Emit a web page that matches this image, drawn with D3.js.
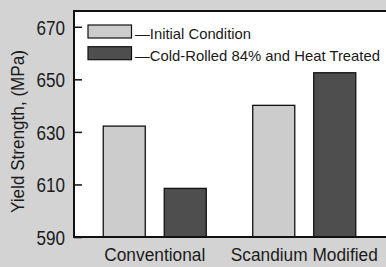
<!DOCTYPE html>
<html><head><meta charset="utf-8">
<script src="https://cdn.jsdelivr.net/npm/d3@7"></script>
<style>
html,body{margin:0;padding:0;background:#d3d3d3;}
svg{display:block;font-family:"Liberation Sans",Arial,Helvetica,sans-serif;}
</style></head>
<body>
<svg id="chart" width="386" height="267"></svg>
<script>
const categories = ["Conventional", "Scandium Modified"];
const seriesNames = ["Initial Condition", "Cold-Rolled 84% and Heat Treated"];
const initialValues = [632.2, 640.1];
const coldRolledValues = [608.5, 652.5];
const yTicks = [590, 610, 630, 650, 670];
const yTitle = "Yield Strength, (MPa)";

const W = 386, H = 267;
const svg = d3.select("#chart");
const plot = {left: 74, top: 11, bottom: 237, right: 400};
const colors = ["#cccccc", "#4e4e4e"];
const font = "Liberation Sans, Arial, sans-serif";

svg.append("rect").attr("x", 0).attr("y", 0).attr("width", W).attr("height", H).attr("fill", "#d3d3d3");
svg.append("rect").attr("x", plot.left).attr("y", plot.top)
  .attr("width", plot.right - plot.left).attr("height", plot.bottom - plot.top)
  .attr("fill", "#ffffff");

const y = d3.scaleLinear().domain([590, 676]).range([plot.bottom, plot.top]);
const x0 = d3.scaleBand().domain(categories).range([80, 379]).paddingInner(0).paddingOuter(0);
const x1 = d3.scaleBand().domain(seriesNames).range([0, x0.bandwidth()]).paddingInner(0.311).paddingOuter(0.381);

const data = categories.map((c, i) => ({cat: c, vals: [initialValues[i], coldRolledValues[i]]}));

const g = svg.append("g");
data.forEach(d => {
  d.vals.forEach((v, j) => {
    g.append("rect")
      .attr("x", x0(d.cat) + x1(seriesNames[j]))
      .attr("y", y(v))
      .attr("width", x1.bandwidth())
      .attr("height", y(590) - y(v))
      .attr("fill", colors[j])
      .attr("stroke", "#111")
      .attr("stroke-width", 1.3);
  });
});

// y axis
const yAxis = d3.axisLeft(y).tickValues(yTicks).tickSize(-8).tickPadding(9).tickFormat(d3.format("d"));
const ya = svg.append("g").attr("transform", `translate(${plot.left},0)`).call(yAxis);
ya.select(".domain").remove();
ya.selectAll(".tick line").attr("stroke", "#111").attr("stroke-width", 1.5);
ya.selectAll(".tick text").attr("font-size", 19.5).attr("fill", "#1a1a1a")
  .attr("font-family", font)
  .attr("textLength", 28.5).attr("lengthAdjust", "spacingAndGlyphs")
  .attr("dy", "0.38em");

// frame lines
svg.append("line").attr("x1", plot.left).attr("x2", W).attr("y1", plot.top).attr("y2", plot.top).attr("stroke", "#111").attr("stroke-width", 2);
svg.append("line").attr("x1", plot.left).attr("x2", plot.left).attr("y1", plot.top - 1).attr("y2", plot.bottom + 1).attr("stroke", "#111").attr("stroke-width", 2);
svg.append("line").attr("x1", plot.left - 1).attr("x2", W).attr("y1", plot.bottom).attr("y2", plot.bottom).attr("stroke", "#111").attr("stroke-width", 2);

// x axis labels
const xLabelWidths = {"Conventional": 101, "Scandium Modified": 147};
const xAxis = d3.axisBottom(x0).tickSize(0).tickPadding(11.5);
const xa = svg.append("g").attr("transform", `translate(0,${plot.bottom})`).call(xAxis);
xa.select(".domain").remove();
xa.selectAll(".tick text").attr("font-size", 17.5).attr("fill", "#1a1a1a")
  .attr("font-family", font)
  .attr("textLength", d => xLabelWidths[d]).attr("lengthAdjust", "spacingAndGlyphs");

// y title
svg.append("text")
  .attr("transform", "translate(24,131.5) rotate(-90)")
  .attr("text-anchor", "middle")
  .attr("font-size", 19)
  .attr("fill", "#1a1a1a")
  .attr("textLength", 163).attr("lengthAdjust", "spacingAndGlyphs")
  .text(yTitle);

// legend
const legendWidths = [116, 245];
const legend = svg.append("g");
seriesNames.forEach((s, j) => {
  const ly = 25 + j * 21.7;
  legend.append("rect").attr("x", 88).attr("y", ly).attr("width", 43.5).attr("height", 13)
    .attr("fill", colors[j]).attr("stroke", "#111").attr("stroke-width", 1.2);
  legend.append("text").attr("x", 135).attr("y", ly + 14)
    .attr("font-size", 15).attr("fill", "#1a1a1a")
    .attr("textLength", legendWidths[j]).attr("lengthAdjust", "spacingAndGlyphs")
    .text("\u2014" + s);
});
</script>
</body></html>
